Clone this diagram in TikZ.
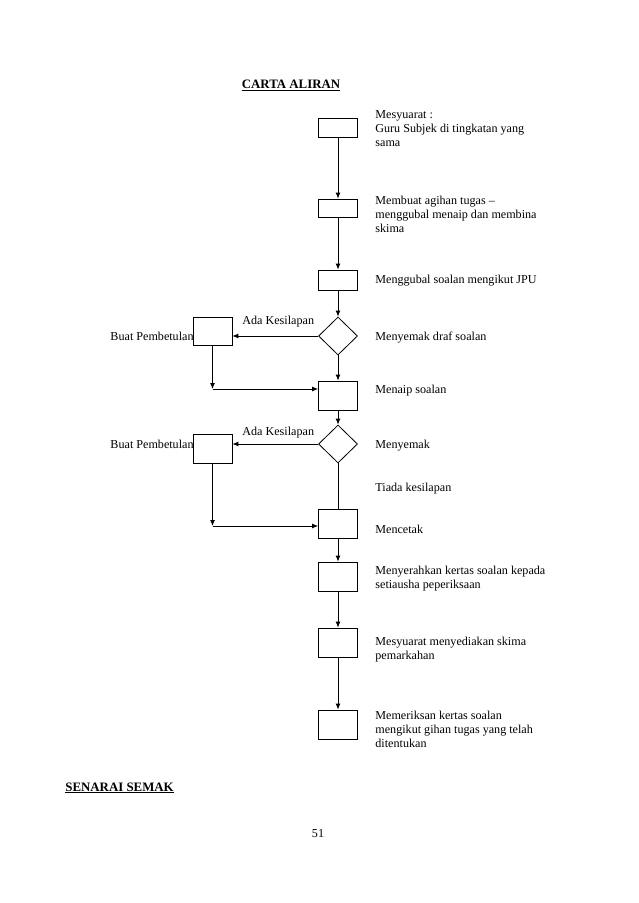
\documentclass[tikz,border=0pt]{standalone}
\usepackage{fontspec}
\setmainfont{Liberation Serif}
\usetikzlibrary{shapes.geometric,arrows.meta}

\begin{document}
\begin{tikzpicture}[x=0.9326pt,y=-0.9326pt,line width=0.75pt,
  >={Latex[length=5.5pt,width=4.5pt]}]

%Define sizes (in pixels of the page)
\def\px{0.9326pt}      %one pixel.
\def\bw{39}            %box width.
\def\ls{14.37}         %line spacing of the labels.

\tikzset{
  stepbox/.style={draw,rectangle,inner sep=0pt,minimum width=\bw*\px,minimum height=#1*\px},
  stepbox/.default=29,
  check/.style={draw,diamond,inner sep=0pt,minimum width=39*\px,minimum height=38*\px},
  txt/.style={anchor=base west,inner sep=0pt,align=left,font=\fontsize{11.3}{13.4}\selectfont},
  head/.style={anchor=base,inner sep=0pt,font=\fontsize{12}{14}\selectfont\bfseries},
}

\useasboundingbox (0,0) rectangle (638,903);

% Titles
\node[head] (title) at (291,89) {\underline{CARTA ALIRAN}};
\node[head,anchor=base west] (semak) at (65,791) {\underline{SENARAI SEMAK}};
\node[txt,anchor=base] (page) at (318,837) {51};

% Main column of steps
\node[stepbox=19] (mesyuarat) at (338,127.5) {};
\node[stepbox=18] (agihan) at (338,208) {};
\node[stepbox=20] (gubal) at (338,280) {};
\node[check] (semakdraf) at (338,336) {};
\node[stepbox] (menaip) at (338,395.5) {};
\node[check] (semaklagi) at (338,444) {};
\node[stepbox] (cetak) at (338,523.5) {};
\node[stepbox] (serah) at (338,576.5) {};
\node[stepbox] (skima) at (338,642.5) {};
\node[stepbox] (periksa) at (338,724.5) {};

% Correction boxes
\node[stepbox=28] (betul1) at (212.5,331) {};
\node[stepbox] (betul2) at (212.5,448.5) {};

% Corners of the return lines
\coordinate (kembali1) at (212.5,389);
\coordinate (kembali2) at (212.5,526);

% Labels (base = last line)
\node[txt] (t1) at (375,118+2*\ls) {Mesyuarat :\\Guru Subjek di tingkatan yang\\sama};
\node[txt] (t2) at (375,204+2*\ls) {Membuat agihan tugas --\\menggubal menaip dan membina\\skima};
\node[txt] (t3) at (375,283) {Menggubal soalan mengikut JPU};
\node[txt] (t4) at (375,340) {Menyemak draf soalan};
\node[txt] (t5) at (375,393) {Menaip soalan};
\node[txt] (t6) at (375,448) {Menyemak};
\node[txt] (t7) at (375,491) {Tiada kesilapan};
\node[txt] (t8) at (375,533) {Mencetak};
\node[txt] (t9) at (375,574+\ls) {Menyerahkan kertas soalan kepada\\setiausha peperiksaan};
\node[txt] (t10) at (375,645+\ls) {Mesyuarat menyediakan skima\\pemarkahan};
\node[txt] (t11) at (375,719+2*\ls) {Memeriksan kertas soalan\\mengikut gihan tugas yang telah\\ditentukan};

\node[txt,anchor=base east] (bp1) at (194,340) {Buat Pembetulan};
\node[txt,anchor=base east] (bp2) at (194,448) {Buat Pembetulan};
\node[txt] (ak1) at (242,324) {Ada Kesilapan};
\node[txt] (ak2) at (242,435) {Ada Kesilapan};

% Connectors
\draw[->] (mesyuarat) -- (agihan);
\draw[->] (agihan) -- (gubal);
\draw[->] (gubal) -- (semakdraf);
\draw[->] (semakdraf) -- (menaip);
\draw[->] (menaip) -- (semaklagi);
\draw (semaklagi) -- (cetak);
\draw[->] (cetak) -- (serah);
\draw[->] (serah) -- (skima);
\draw[->] (skima) -- (periksa);

\draw[->] (semakdraf.west) -- (semakdraf.west -| betul1.east);
\draw[->] (semaklagi.west) -- (semaklagi.west -| betul2.east);

\draw[->] (betul1.south) -- (kembali1);
\draw[->] (kembali1) -- (kembali1 -| menaip.west);
\draw[->] (betul2.south) -- (kembali2);
\draw[->] (kembali2) -- (kembali2 -| cetak.west);

\end{tikzpicture}
\end{document}
